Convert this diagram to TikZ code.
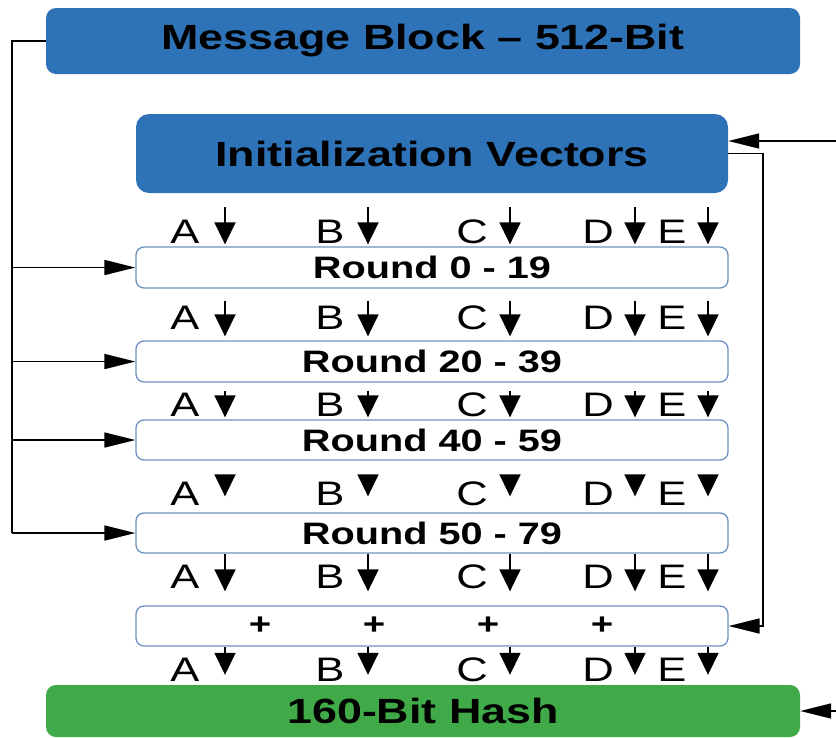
\documentclass[tikz,border=0pt]{standalone}
\usepackage{fontspec}
\setmainfont{Liberation Sans}[FakeStretch=1.28]
\usetikzlibrary{arrows.meta,calc}
\definecolor{mblue}{RGB}{46,114,184}
\definecolor{mgreen}{RGB}{64,170,72}
\definecolor{rborder}{RGB}{110,145,195}
\begin{document}
\begin{tikzpicture}[x=1pt,y=-1pt,
  bigbox/.style={fill=mblue,draw=none,rounded corners=10pt,inner sep=0pt,
    font=\fontsize{35}{40}\selectfont\bfseries,text=black},
  roundbox/.style={draw=rborder,line width=1.3pt,fill=white,rounded corners=8pt,
    inner sep=0pt,minimum width=592pt,font=\fontsize{31}{36}\selectfont\bfseries},
  letter/.style={inner sep=0pt,font=\fontsize{34}{38}\selectfont},
  conn/.style={line width=1.6pt,draw=black},
  harr/.style={conn,-{Triangle[width=15pt,length=31pt]}},
  varr/.style={conn,-{Triangle[width=21pt,length=22pt]}},
  plusmark/.style={inner sep=0pt,font=\fontsize{30}{34}\selectfont\bfseries}
]
\useasboundingbox (0,0) rectangle (836,737);

% main boxes
\node[bigbox,minimum width=754pt,minimum height=66pt] (msg) at (423,41) {Message Block -- 512-Bit};
\node[bigbox,minimum width=592pt,minimum height=79pt,rounded corners=13pt] (iv) at (432,153.5) {Initialization Vectors};
\node[roundbox,minimum height=41pt] (r0) at (432,267.5) {Round 0 - 19};
\node[roundbox,minimum height=41pt] (r20) at (432,361.5) {Round 20 - 39};
\node[roundbox,minimum height=40pt] (r40) at (432,440) {Round 40 - 59};
\node[roundbox,minimum height=40pt] (r50) at (432,533) {Round 50 - 79};
\node[roundbox,minimum height=40pt] (plus) at (432,626) {};
\node[bigbox,fill=mgreen,minimum width=754pt,minimum height=52pt] (hash) at (423,711) {160-Bit Hash};

% plus signs
\node[plusmark] (p1) at (260,626) {+};
\node[plusmark] (p2) at (374,626) {+};
\node[plusmark] (p3) at (488,626) {+};
\node[plusmark] (p4) at (602,626) {+};

% left feed lines
\coordinate (lft) at (12,400);
\draw[conn] (msg.west) -- (msg.west -| lft) -- (r50.west -| lft);
\draw[harr] (r0.west -| lft) -- (r0.west);
\draw[harr] (r20.west -| lft) -- (r20.west);
\draw[harr] (r40.west -| lft) -- (r40.west);
\draw[harr] (r50.west -| lft) -- (r50.west);

% right side
\coordinate (rin) at (836,141);
\draw[harr] (rin) -- (rin -| iv.east);
\coordinate (rloop) at (763,400);
\draw[harr] (iv.east) -| (rloop) |- (plus.east);
\coordinate (hin) at (836,711);
\draw[harr] (hin) -- (hin -| hash.east);

% letter rows
\foreach \ta/\tb/\sa/\sb/\ly/\i in {iv/r0/14/2/232/1, r0/r20/12/4/318/2, r20/r40/8/2/405/3, r40/r50/16/16/494/4, r50/plus/0/14/577/5, plus/hash/0/10/670/6}{
  \foreach \L/\lx/\ax in {A/185/225, B/330/368, C/472/510, D/598/635, E/672/708}{
    \node[letter] (l\L\i) at (\lx,\ly) {\L};
    \coordinate (c\L\i) at (\ax,\ly);
    \draw[varr,shorten <=\sa pt,shorten >=\sb pt] (\ta.south -| c\L\i) -- (\tb.north -| c\L\i);
  }
}
\end{tikzpicture}
\end{document}
